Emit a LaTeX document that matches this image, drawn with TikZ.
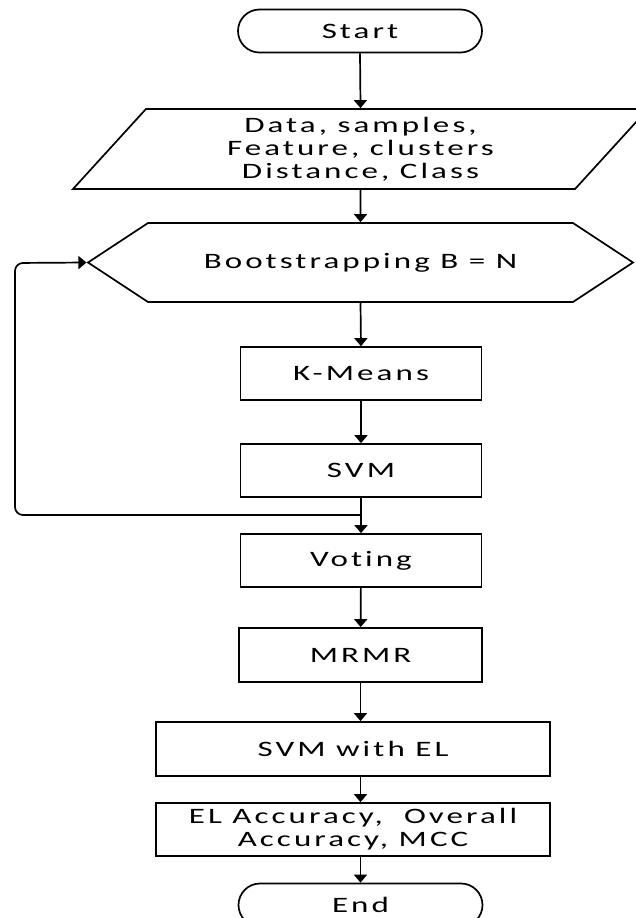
\documentclass[tikz,border=0pt]{standalone}
\usepackage{fontspec}
\setmainfont{Carlito}[FakeStretch=1.5,LetterSpace=14,Ligatures=NoCommon]
\usetikzlibrary{arrows.meta,shapes.geometric,shapes.misc,shapes.symbols}

\begin{document}
\begin{tikzpicture}[x=1pt,y=-1pt,line width=1.7pt,
	arrows={-Triangle[width=13pt,length=8pt]},
	every node/.style={font=\fontsize{22}{23}\selectfont,align=center,inner sep=0pt},
	box/.style={draw,rectangle,minimum width=241pt,minimum height=53pt},
	term/.style={draw,rounded rectangle,minimum width=244pt,minimum height=43pt}]
	\useasboundingbox (0,0) rectangle (635,918);

	\node[term] (start) at (360,31) {Start};
	\node[draw,trapezium,trapezium left angle=41.3,trapezium right angle=138.7,trapezium stretches body,
		minimum width=575pt,minimum height=80pt] (data) at (360.5,149) {Data, samples,\\Feature, clusters\\Distance, Class};
	\node[draw,signal,signal to=west and east,signal pointer angle=66.7,
		minimum width=545pt,minimum height=79pt] (boot) at (360.5,262.5) {Bootstrapping B = N};
	\node[box] (kmeans) at (361,373.5) {K-Means};
	\node[box] (svm) at (361,470.5) {SVM};
	\node[box] (voting) at (361,560.5) {Voting};
	\node[box,minimum width=243pt,minimum height=54pt] (mrmr) at (360.5,655) {MRMR};
	\node[box,minimum width=394pt,minimum height=54pt] (svmel) at (353,749) {SVM with EL};
	\node[box,minimum width=394pt] (acc) at (353,829.5) {EL Accuracy,\ \ Overall\\Accuracy, MCC};
	\node[term] (end) at (360.5,905) {End};

	\coordinate (split) at (361,515);
	\coordinate (corner) at (15,263);

	\draw (start.south) -- (data.north);
	\draw (data.north |- data.south) -- (boot.north);
	\draw (boot.south) -- (kmeans.north);
	\draw (kmeans) -- (svm);
	\draw (svm) -- (voting);
	\draw[rounded corners=8pt] (split) -| (corner) -- (boot.west);
	\draw (voting) -- (mrmr);
	\draw (mrmr.south) -- (mrmr.south |- svmel.north);
	\draw (mrmr.south |- svmel.south) -- (mrmr.south |- acc.north);
	\draw (mrmr.south |- acc.south) -- (end.north);
\end{tikzpicture}
\end{document}
